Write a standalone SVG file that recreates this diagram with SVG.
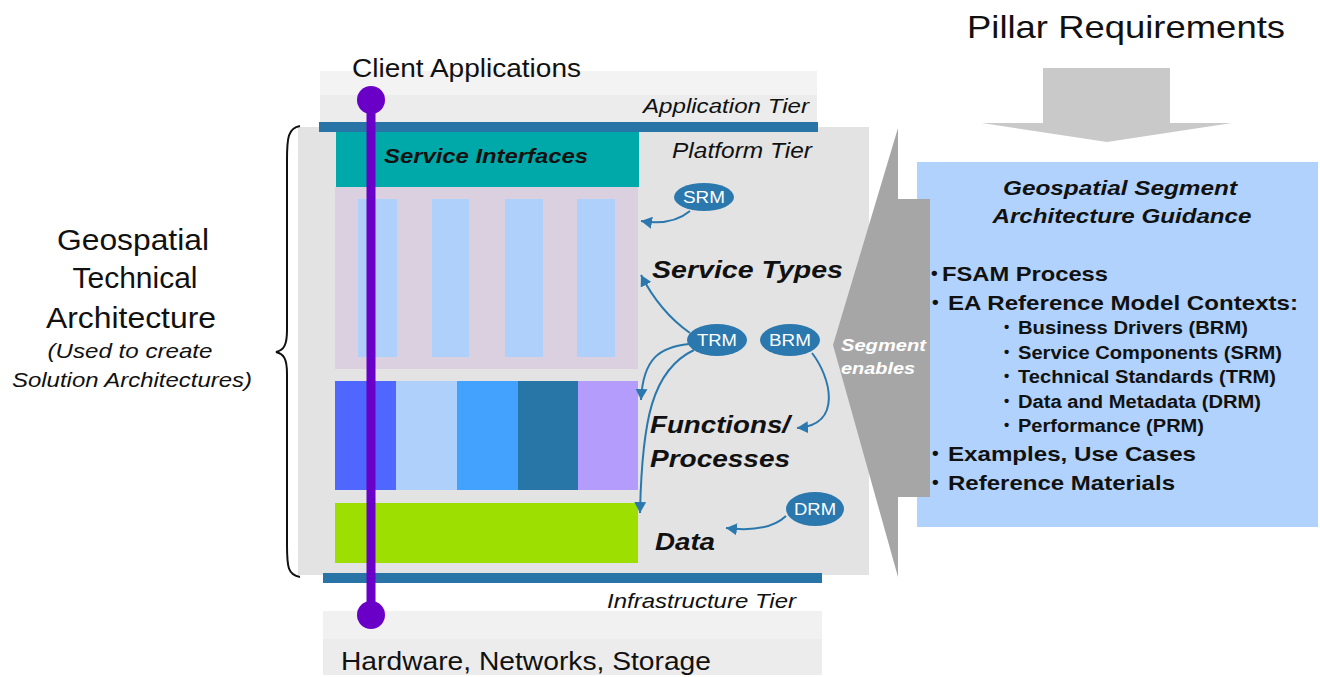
<svg xmlns="http://www.w3.org/2000/svg" width="1320" height="677" viewBox="0 0 1320 677">
<style>
text{font-family:"Liberation Sans",Arial,sans-serif;fill:#111}
.it{font-style:italic}
.bi{font-weight:bold;font-style:italic}
.b{font-weight:bold}
.oval{fill:#2a78ad}
.ol{fill:#fff;font-size:17px;text-anchor:middle}
.conn{fill:none;stroke:#2a78ad;stroke-width:2}
.bul{font-size:19px;font-weight:bold}
.sbul{font-size:15px;font-weight:bold}
</style>
<defs>
<marker id="ah" markerUnits="userSpaceOnUse" markerWidth="12" markerHeight="12" refX="11" refY="6" orient="auto">
<path d="M0,0 L11,6 L0,12 z" fill="#2a78ad"/>
</marker>
</defs>
<rect width="1320" height="677" fill="#fff"/>

<g id="pillar">
<text x="967" y="38" font-size="32" textLength="318" lengthAdjust="spacingAndGlyphs">Pillar Requirements</text>
<polygon points="1043,68 1170,68 1170,123 1232,123 1107,142 982,123 1043,123" fill="#c9c9c9"/>
</g>

<g id="application-tier">
<rect x="320" y="71" width="497" height="24" fill="#f3f3f3"/>
<rect x="320" y="95" width="497" height="28" fill="#ececec"/>
<text x="352" y="77" font-size="25" textLength="229" lengthAdjust="spacingAndGlyphs">Client Applications</text>
<text class="it" x="643" y="113" font-size="21" textLength="166" lengthAdjust="spacingAndGlyphs">Application Tier</text>
</g>

<g id="platform-tier">
<rect x="298" y="127" width="571" height="448" fill="#e3e3e3"/>
<rect x="319" y="122" width="499" height="10" fill="#2874a6"/>
<text class="it" x="672" y="158" font-size="22" textLength="140" lengthAdjust="spacingAndGlyphs">Platform Tier</text>
</g>

<g id="brace">
<path d="M300,126 C288,128 287,138 287,160 L287,330 C287,345 284,350 276,352 C284,354 287,359 287,374 L287,545 C287,567 288,575 300,577" fill="none" stroke="#111" stroke-width="2"/>
</g>

<g id="left-label" text-anchor="middle">
<text x="133" y="250" font-size="29" textLength="152" lengthAdjust="spacingAndGlyphs">Geospatial</text>
<text x="135" y="288" font-size="29" textLength="125" lengthAdjust="spacingAndGlyphs">Technical</text>
<text x="131" y="328" font-size="29" textLength="170" lengthAdjust="spacingAndGlyphs">Architecture</text>
<text class="it" x="130" y="358" font-size="21" textLength="165" lengthAdjust="spacingAndGlyphs">(Used to create</text>
<text class="it" x="132" y="387" font-size="21" textLength="240" lengthAdjust="spacingAndGlyphs">Solution Architectures)</text>
</g>

<g id="service-interfaces">
<rect x="336" y="132" width="303" height="55" fill="#00a9a9"/>
<text class="bi" x="384" y="163" font-size="21" textLength="204" lengthAdjust="spacingAndGlyphs">Service Interfaces</text>
</g>

<g id="service-types">
<rect x="335" y="187" width="303" height="182" fill="#dbd0df"/>
<rect x="358" y="199" width="39" height="158" fill="#afd0fb"/>
<rect x="432" y="199" width="37" height="158" fill="#afd0fb"/>
<rect x="505" y="199" width="38" height="158" fill="#afd0fb"/>
<rect x="577" y="199" width="38" height="158" fill="#afd0fb"/>
<text class="bi" x="652" y="278" font-size="24" textLength="191" lengthAdjust="spacingAndGlyphs">Service Types</text>
</g>

<g id="functions">
<rect x="335" y="381" width="61" height="109" fill="#4f66ff"/>
<rect x="396" y="381" width="61" height="109" fill="#b0d0fc"/>
<rect x="457" y="381" width="61" height="109" fill="#44a2ff"/>
<rect x="518" y="381" width="60" height="109" fill="#2876a8"/>
<rect x="578" y="381" width="60" height="109" fill="#b39cfb"/>
<text class="bi" x="650" y="433" font-size="24" textLength="140" lengthAdjust="spacingAndGlyphs">Functions/</text>
<text class="bi" x="650" y="467" font-size="24" textLength="140" lengthAdjust="spacingAndGlyphs">Processes</text>
</g>

<g id="data">
<rect x="335" y="503" width="303" height="60" fill="#9ddf00"/>
<text class="bi" x="655" y="550" font-size="24" textLength="60" lengthAdjust="spacingAndGlyphs">Data</text>
</g>

<g id="infrastructure-tier">
<rect x="323" y="573" width="499" height="10" fill="#2874a6"/>
<text class="it" x="607" y="608" font-size="21" textLength="189" lengthAdjust="spacingAndGlyphs">Infrastructure Tier</text>
<rect x="323" y="611" width="499" height="28" fill="#f1f1f1"/>
<rect x="323" y="639" width="499" height="36" fill="#ececec"/>
<text x="341" y="670" font-size="25" textLength="370" lengthAdjust="spacingAndGlyphs">Hardware, Networks, Storage</text>
</g>

<g id="client-line">
<line x1="371" y1="100" x2="371" y2="615" stroke="#6a00c8" stroke-width="9"/>
<circle cx="371" cy="100" r="14" fill="#6a00c8"/>
<circle cx="371" cy="615" r="14" fill="#6a00c8"/>
</g>

<g id="connectors">
<path class="conn" d="M690,211 Q672,226 641,221" marker-end="url(#ah)"/>
<path class="conn" d="M690,333 Q660,312 641,275" marker-end="url(#ah)"/>
<path class="conn" d="M689,344 C660,347 643,358 641,400" marker-end="url(#ah)"/>
<path class="conn" d="M694,350 C652,370 642,420 640,513" marker-end="url(#ah)"/>
<path class="conn" d="M812,353 C830,376 844,425 797,428" marker-end="url(#ah)"/>
<path class="conn" d="M786,516 Q768,533 726,528" marker-end="url(#ah)"/>
</g>

<g id="srm"><ellipse class="oval" cx="704" cy="197" rx="30" ry="14"/><text class="ol" x="704" y="203" textLength="42" lengthAdjust="spacingAndGlyphs">SRM</text></g>
<g id="trm"><ellipse class="oval" cx="717" cy="340" rx="30" ry="16"/><text class="ol" x="717" y="346" textLength="40" lengthAdjust="spacingAndGlyphs">TRM</text></g>
<g id="brm"><ellipse class="oval" cx="790" cy="340" rx="30" ry="16"/><text class="ol" x="790" y="346" textLength="42" lengthAdjust="spacingAndGlyphs">BRM</text></g>
<g id="drm"><ellipse class="oval" cx="815" cy="509" rx="29" ry="17"/><text class="ol" x="815" y="515" textLength="42" lengthAdjust="spacingAndGlyphs">DRM</text></g>

<g id="guidance">
<rect x="917" y="162" width="401" height="365" fill="#b0d2fc"/>
<text class="bi" x="1120" y="195" font-size="20" text-anchor="middle" textLength="234" lengthAdjust="spacingAndGlyphs">Geospatial Segment</text>
<text class="bi" x="1122" y="223" font-size="20" text-anchor="middle" textLength="259" lengthAdjust="spacingAndGlyphs">Architecture Guidance</text>
<text class="bul" x="931" y="279">•</text>
<text class="b" x="942" y="281" font-size="21" textLength="166" lengthAdjust="spacingAndGlyphs">FSAM Process</text>
<text class="bul" x="932" y="308">•</text>
<text class="b" x="948" y="310" font-size="21" textLength="350" lengthAdjust="spacingAndGlyphs">EA Reference Model Contexts:</text>
<text class="sbul" x="1004" y="332">•</text>
<text class="b" x="1018" y="334" font-size="18" textLength="230" lengthAdjust="spacingAndGlyphs">Business Drivers (BRM)</text>
<text class="sbul" x="1004" y="357">•</text>
<text class="b" x="1018" y="359" font-size="18" textLength="264" lengthAdjust="spacingAndGlyphs">Service Components (SRM)</text>
<text class="sbul" x="1004" y="381">•</text>
<text class="b" x="1018" y="383" font-size="18" textLength="258" lengthAdjust="spacingAndGlyphs">Technical Standards (TRM)</text>
<text class="sbul" x="1004" y="406">•</text>
<text class="b" x="1018" y="408" font-size="18" textLength="243" lengthAdjust="spacingAndGlyphs">Data and Metadata (DRM)</text>
<text class="sbul" x="1004" y="430">•</text>
<text class="b" x="1018" y="432" font-size="18" textLength="186" lengthAdjust="spacingAndGlyphs">Performance (PRM)</text>
<text class="bul" x="932" y="459">•</text>
<text class="b" x="948" y="461" font-size="21" textLength="248" lengthAdjust="spacingAndGlyphs">Examples, Use Cases</text>
<text class="bul" x="932" y="488">•</text>
<text class="b" x="948" y="490" font-size="21" textLength="227" lengthAdjust="spacingAndGlyphs">Reference Materials</text>
</g>

<g id="segment-arrow">
<polygon points="898,128 898,199 930,199 930,497 898,497 898,577 833,345" fill="#a6a6a6"/>
<text class="bi" x="841" y="351" font-size="17" textLength="85" lengthAdjust="spacingAndGlyphs" style="fill:#fff">Segment</text>
<text class="bi" x="841" y="374" font-size="17" textLength="74" lengthAdjust="spacingAndGlyphs" style="fill:#fff">enables</text>
</g>
</svg>
